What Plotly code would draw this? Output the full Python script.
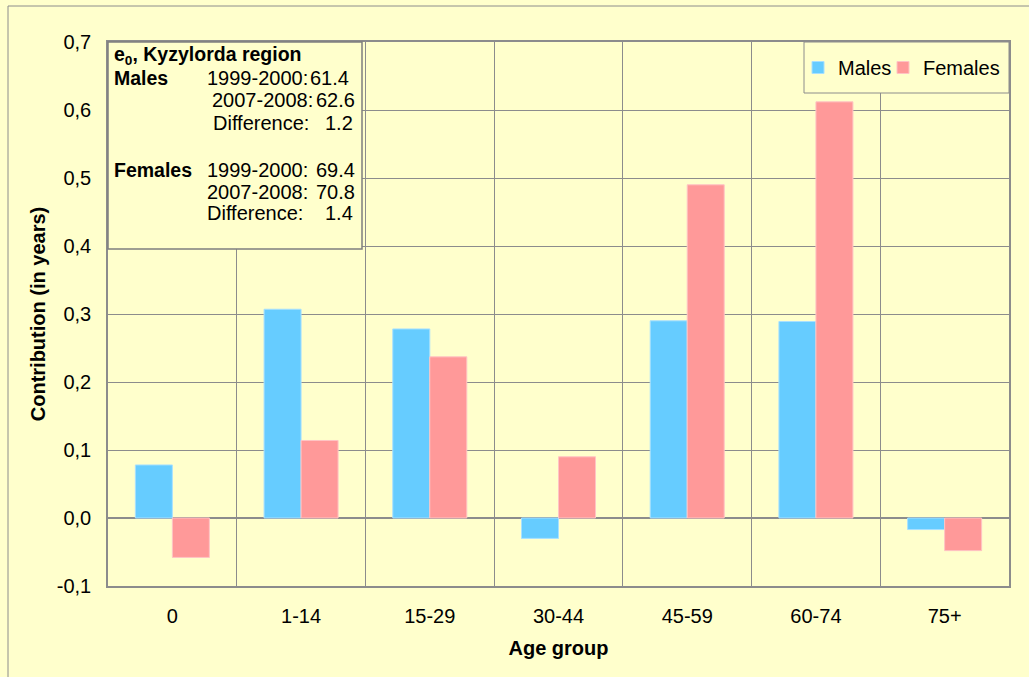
import plotly.graph_objects as go

# Contribution of each age group to the change in life expectancy (years)
age_groups = ["0", "1-14", "15-29", "30-44", "45-59", "60-74", "75+"]
males = [0.078, 0.307, 0.278, -0.030, 0.290, 0.289, -0.017]
females = [-0.058, 0.114, 0.237, 0.090, 0.490, 0.612, -0.048]

y_tick_values = [-0.1, 0.0, 0.1, 0.2, 0.3, 0.4, 0.5, 0.6, 0.7]
y_tick_labels = ["-0,1", "0,0", "0,1", "0,2", "0,3", "0,4", "0,5", "0,6", "0,7"]

W, H = 1029, 677
L, R, T, B = 108, 20, 42, 91
BG = "#FFFFCC"
GRID = "#8C8C8C"
FONT = "Liberation Sans, Arial, sans-serif"
FS = 20


def px(x):
    return (x - L) / (W - L - R)


def py(y):
    return (H - B - y) / (H - T - B)


fig = go.Figure()
fig.add_trace(go.Bar(
    x=age_groups, y=males, name="Males", legend="legend",
    marker=dict(color="#66CCFF", line=dict(color="#A8E0FF", width=1)),
))
fig.add_trace(go.Bar(
    x=age_groups, y=females, name="Females", legend="legend2",
    marker=dict(color="#FF9999", line=dict(color="#FFC4C4", width=1)),
))

shapes = [
    # outer chart border
    dict(type="rect", xref="paper", yref="paper",
         x0=px(8), x1=px(W + 20), y0=py(H + 20), y1=py(6),
         line=dict(color="#8C8C8C", width=1), fillcolor="rgba(0,0,0,0)", layer="below"),
    # info box
    dict(type="rect", xref="paper", yref="paper",
         x0=px(108), x1=px(362), y0=py(249), y1=py(42),
         line=dict(color="#7F7F7F", width=1.5), fillcolor=BG, layer="above"),
    # legend box
    dict(type="rect", xref="paper", yref="paper",
         x0=px(804), x1=px(1009), y0=py(93), y1=py(42),
         line=dict(color="#8C8C8C", width=1), fillcolor=BG, layer="above"),
]

annotations = []


def note(text, x, y, anchor="left", bold=False, size=FS):
    annotations.append(dict(
        text=f"<b>{text}</b>" if bold else text,
        xref="paper", yref="paper", x=px(x), y=py(y),
        xanchor=anchor, yanchor="middle", showarrow=False,
        font=dict(family=FONT, size=size, color="#000000"),
    ))


note("e<sub>0</sub>, Kyzylorda region", 112, 55, bold=True, size=19.5)
note("Males", 112, 78, bold=True, size=19.5)
note("1999-2000:", 205, 78)
note("61.4", 351, 78, anchor="right")
note("2007-2008:", 210, 100)
note("62.6", 357, 100, anchor="right")
note("Difference:", 211, 123)
note("1.2", 355, 123, anchor="right")
note("Females", 112, 170, bold=True, size=19.5)
note("1999-2000:", 205, 170)
note("69.4", 357, 170, anchor="right")
note("2007-2008:", 205, 192)
note("70.8", 357, 192, anchor="right")
note("Difference:", 205, 213)
note("1.4", 355, 213, anchor="right")

legend_style = dict(
    orientation="h", yanchor="middle", xanchor="left",
    bgcolor="rgba(0,0,0,0)", borderwidth=0,
    font=dict(family=FONT, size=FS, color="#000000"),
    itemwidth=30,
)

fig.update_layout(
    width=W, height=H,
    margin=dict(l=L, r=R, t=T, b=B, pad=0),
    paper_bgcolor=BG, plot_bgcolor=BG,
    font=dict(family=FONT, size=FS, color="#000000"),
    barmode="group", bargap=0.425, bargroupgap=0,
    showlegend=True,
    legend=dict(x=px(798), y=py(67.5), **legend_style),
    legend2=dict(x=px(883), y=py(67.5), **legend_style),
    shapes=shapes,
    annotations=annotations,
    xaxis=dict(
        type="category", tickson="boundaries",
        showgrid=True, gridcolor=GRID, gridwidth=1,
        showline=True, linecolor=GRID, linewidth=1.5, mirror=True,
        ticks="", ticklabelstandoff=11,
        tickfont=dict(family=FONT, size=FS),
        title=dict(text="<b>Age group</b>", font=dict(family=FONT, size=FS), standoff=15),
    ),
    yaxis=dict(
        range=[-0.1, 0.7], tickvals=y_tick_values, ticktext=y_tick_labels,
        showgrid=True, gridcolor=GRID, gridwidth=1,
        zeroline=True, zerolinecolor=GRID, zerolinewidth=1.5,
        showline=True, linecolor=GRID, linewidth=1.5, mirror=True,
        ticks="", ticklabelstandoff=11,
        tickfont=dict(family=FONT, size=FS),
        title=dict(text="<b>Contribution (in years)</b>", font=dict(family=FONT, size=FS), standoff=6),
    ),
)

fig.write_html("out.html")
